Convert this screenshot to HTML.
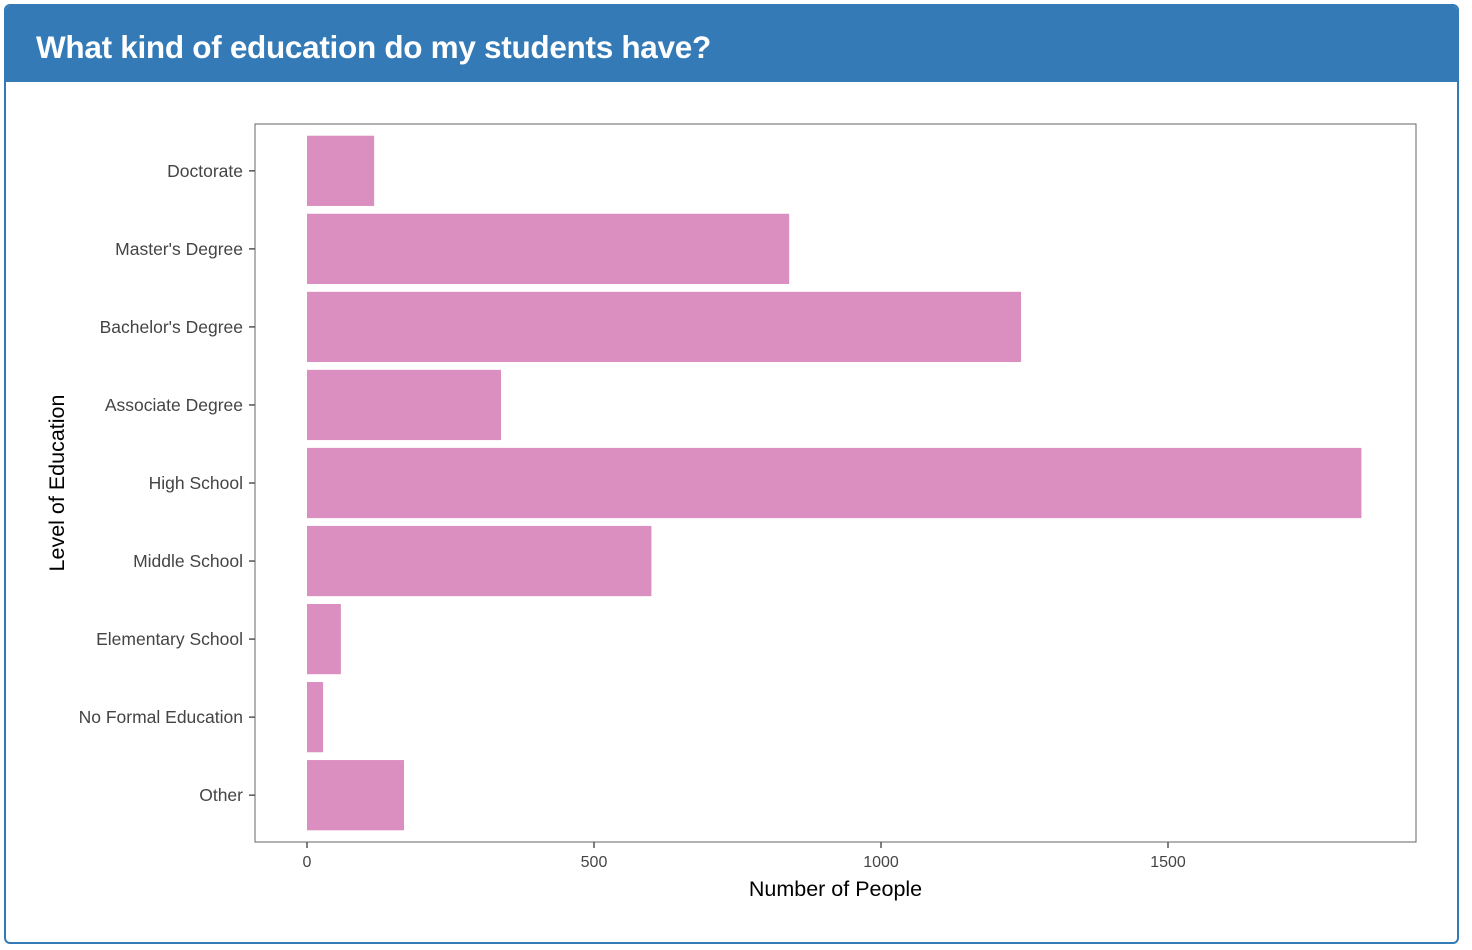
<!DOCTYPE html>
<html><head><meta charset="utf-8">
<style>
html,body{margin:0;padding:0;background:#fff;width:1472px;height:950px;overflow:hidden;}
.card{position:absolute;left:4px;top:4px;width:1451px;height:936px;border:2px solid #337ab7;border-radius:6px;overflow:hidden;background:#fff;}
.hdr{position:absolute;left:0;top:0;width:100%;height:76px;background:#337ab7;}
.hdr h1{margin:0;position:absolute;left:30px;top:23px;font:bold 31.5px "Liberation Sans",sans-serif;color:#fff;letter-spacing:-0.3px;}
svg{position:absolute;left:0;top:0;}
</style></head><body>
<div class="card">
<div class="hdr"><h1>What kind of education do my students have?</h1></div>
</div>
<svg id="chart" width="1472" height="950"></svg>
<script>
const categories = ["Doctorate","Master's Degree","Bachelor's Degree","Associate Degree","High School","Middle School","Elementary School","No Formal Education","Other"];
const values = [117, 840, 1244, 338, 1837, 600, 59, 28, 169];
const xTicks = [0, 500, 1000, 1500];

const NS = "http://www.w3.org/2000/svg";
const svg = document.getElementById('chart');
const P = {l:255, r:1416, t:124, b:842};
const x0 = 307, pxPer = (594 - 307) / 500;
function xs(v){ return x0 + v * pxPer; }
const band = (P.b - P.t) / (categories.length + 0.2);
function yc(i){ return P.t + band * 0.6 + i * band; }
function mk(tag, attrs){ const e = document.createElementNS(NS, tag); for (const k in attrs) e.setAttribute(k, attrs[k]); svg.appendChild(e); return e; }
const font = '"Liberation Sans", sans-serif';

const panel = mk('rect', {x:P.l, y:P.t, width:P.r-P.l, height:P.b-P.t, fill:'#fff', stroke:'#666', 'stroke-width':1});



categories.forEach((c, i) => {
  const y = yc(i);
  const bar = mk('rect', {x:xs(0), y:y - band*0.45, width:xs(values[i]) - xs(0), height:band*0.9, fill:'#da8fc0'});
  
  
  const tk = mk('line', {x1:P.l-6, x2:P.l, y1:y, y2:y, stroke:'#555', 'stroke-width':1.5});
  
  
  const t = mk('text', {x:P.l-12, y:y+6, 'text-anchor':'end', 'font-family':font, 'font-size':17.5, fill:'#444'});
  t.textContent = c;
  
  
});

xTicks.forEach(v => {
  const x = xs(v);
  const tk = mk('line', {x1:x, x2:x, y1:P.b, y2:P.b+6, stroke:'#555', 'stroke-width':1.5});
  
  
  const t = mk('text', {x:x, y:P.b+25, 'text-anchor':'middle', 'font-family':font, 'font-size':16, fill:'#444'});
  t.textContent = v;
  
  
});

const xt = mk('text', {x:(P.l+P.r)/2, y:896, 'text-anchor':'middle', 'font-family':font, 'font-size':21.5, fill:'#000'});
xt.textContent = 'Number of People';


const yt = mk('text', {x:0, y:0, 'text-anchor':'middle', 'font-family':font, 'font-size':21.5, fill:'#000', transform:'translate(64,' + (P.t+P.b)/2 + ') rotate(-90)'});
yt.textContent = 'Level of Education';


</script>
</body></html>
